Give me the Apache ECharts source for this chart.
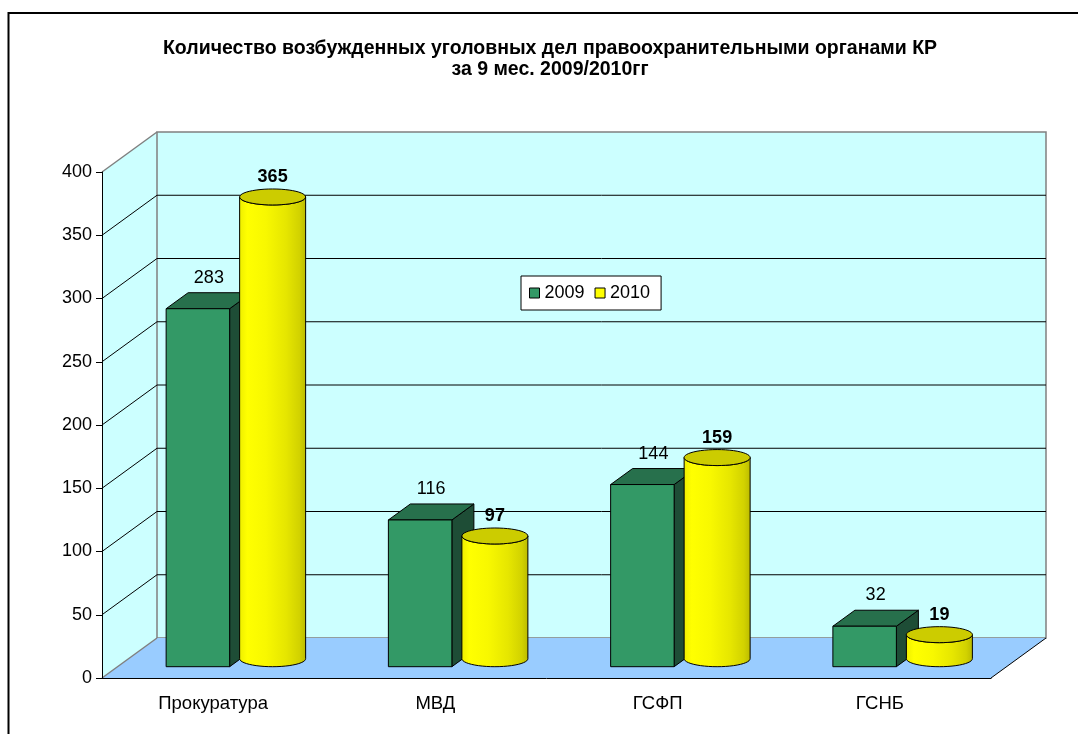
<!DOCTYPE html>
<html>
<head>
<meta charset="utf-8">
<script src="https://cdn.jsdelivr.net/npm/echarts@6/dist/echarts.min.js"></script>
<style>
html, body { margin: 0; padding: 0; background: #fff; }
#chart { width: 1078px; height: 734px; }
</style>
</head>
<body>
<div id="chart"></div>
<script>
// данные
const categories = ['Прокуратура', 'МВД', 'ГСФП', 'ГСНБ'];
const values2009 = [283, 116, 144, 32];
const values2010 = [365, 97, 159, 19];
const yTicks = [0, 50, 100, 150, 200, 250, 300, 350, 400];

const FONT = 'Arial, "Liberation Sans", sans-serif';
// глубина стенок и столбиков (пиксели)
const WALL_DX = 55, WALL_DY = -40;
const BOX_DX = 22, BOX_DY = -16;

function renderWalls(params, api) {
    const bw = api.size([1, 0])[0];
    const fl = api.coord([0, 0])[0] - bw / 2;
    const fr = api.coord([categories.length - 1, 0])[0] + bw / 2;
    const y0 = api.coord([0, 0])[1];
    const yTop = api.coord([0, yTicks[yTicks.length - 1]])[1];
    const dx = WALL_DX, dy = WALL_DY;
    const children = [
        {type: 'polygon', shape: {points: [[fl, yTop], [fl + dx, yTop + dy], [fl + dx, y0 + dy], [fl, y0]]},
            style: {fill: '#CCFFFF'}},
        {type: 'polygon', shape: {points: [[fl + dx, yTop + dy], [fr + dx, yTop + dy], [fr + dx, y0 + dy], [fl + dx, y0 + dy]]},
            style: {fill: '#CCFFFF', stroke: '#808080', lineWidth: 1.5}},
        {type: 'polygon', shape: {points: [[fl, y0], [fl + dx, y0 + dy], [fr + dx, y0 + dy], [fr, y0]]},
            style: {fill: '#99CCFF'}},
        {type: 'line', shape: {x1: fl, y1: yTop, x2: fl + dx, y2: yTop + dy}, style: {stroke: '#808080', lineWidth: 1.5}},
        {type: 'line', shape: {x1: fl, y1: y0, x2: fl + dx, y2: y0 + dy}, style: {stroke: '#808080', lineWidth: 1.5}},
        {type: 'line', shape: {x1: fr, y1: y0, x2: fr + dx, y2: y0 + dy}, style: {stroke: '#000', lineWidth: 1}}
    ];
    yTicks.slice(1, -1).forEach(t => {
        const y = api.coord([0, t])[1];
        children.push({type: 'polyline', shape: {points: [[fl, y], [fl + dx, y + dy], [fr + dx, y + dy]]},
            style: {stroke: '#000', lineWidth: 1, fill: null}});
    });
    return {type: 'group', children: children};
}

function renderBox(params, api) {
    const i = api.value(0), v = api.value(1);
    const base = api.coord([i, 0]);
    const top = api.coord([i, v]);
    const cx = base[0];
    const x0 = cx - 47, x1 = cx + 16.5;
    const yb = base[1] - 11.3, yt = top[1] - 11.3;
    const dx = BOX_DX, dy = BOX_DY;
    const line = {stroke: '#000', lineWidth: 1};
    return {
        type: 'group',
        children: [
            {type: 'polygon', shape: {points: [[x1, yt], [x1 + dx, yt + dy], [x1 + dx, yb + dy], [x1, yb]]},
                style: Object.assign({fill: '#1E4D36'}, line)},
            {type: 'polygon', shape: {points: [[x0, yt], [x0 + dx, yt + dy], [x1 + dx, yt + dy], [x1, yt]]},
                style: Object.assign({fill: '#27704C'}, line)},
            {type: 'rect', shape: {x: x0, y: yt, width: x1 - x0, height: yb - yt},
                style: Object.assign({fill: '#339966'}, line)},
            {type: 'text', x: (x0 + x1) / 2 + dx / 2, y: yt + dy - 15,
                style: {text: String(v), font: '18px ' + FONT, fill: '#000',
                    align: 'center', verticalAlign: 'middle', textAlign: 'center', textVerticalAlign: 'middle'}}
        ]
    };
}

function ellipsePts(cx, cy, rx, ry, a0, a1, n) {
    const pts = [];
    for (let k = 0; k <= n; k++) {
        const t = a0 + (a1 - a0) * k / n;
        pts.push([cx + rx * Math.cos(t), cy + ry * Math.sin(t)]);
    }
    return pts;
}

function renderCylinder(params, api) {
    const i = api.value(0), v = api.value(1);
    const base = api.coord([i, 0]);
    const top = api.coord([i, v]);
    const ccx = base[0] + 59.5;
    const rx = 33, ry = 8;
    const yb = base[1] - 19.3, yt = top[1] - 19.3;
    let body = [[ccx - rx, yt], [ccx - rx, yb]];
    body = body.concat(ellipsePts(ccx, yb, rx, ry, Math.PI, 0, 24));
    body.push([ccx + rx, yt]);
    body = body.concat(ellipsePts(ccx, yt, rx, ry, 0, Math.PI, 24));
    const grad = new echarts.graphic.LinearGradient(0, 0, 1, 0, [
        {offset: 0, color: '#EDED00'},
        {offset: 0.12, color: '#FFFF00'},
        {offset: 0.4, color: '#F8F800'},
        {offset: 0.7, color: '#E6E600'},
        {offset: 0.9, color: '#D2D200'},
        {offset: 1, color: '#BABA00'}
    ]);
    return {
        type: 'group',
        children: [
            {type: 'polygon', shape: {points: body}, style: {fill: grad, stroke: '#000', lineWidth: 1}},
            {type: 'polygon', shape: {points: ellipsePts(ccx, yt, rx, ry, 0, Math.PI * 2, 48)},
                style: {fill: '#CCCC00', stroke: '#000', lineWidth: 1}},
            {type: 'text', x: ccx, y: yt - 20,
                style: {text: String(v), font: 'bold 18px ' + FONT, fill: '#000',
                    align: 'center', verticalAlign: 'middle', textAlign: 'center', textVerticalAlign: 'middle'}}
        ]
    };
}

const chart = echarts.init(document.getElementById('chart'));
chart.setOption({
    animation: false,
    backgroundColor: '#fff',
    title: {
        text: 'Количество возбужденных уголовных дел правоохранительными органами КР\nза 9 мес. 2009/2010гг',
        left: 550,
        top: 38,
        padding: 0,
        textAlign: 'center',
        textStyle: {fontFamily: FONT, fontSize: 19.5, fontWeight: 'bold', color: '#000', lineHeight: 21}
    },
    legend: {
        data: ['2009', '2010'],
        left: 521,
        top: 276,
        orient: 'horizontal',
        icon: 'rect',
        itemWidth: 10,
        itemHeight: 10,
        itemGap: 10,
        padding: [8, 11, 8, 8],
        backgroundColor: '#fff',
        borderColor: '#000',
        borderWidth: 1,
        itemStyle: {borderColor: '#000', borderWidth: 1},
        textStyle: {fontFamily: FONT, fontSize: 18, color: '#000'},
        z: 10
    },
    graphic: [{
        type: 'rect', silent: true,
        shape: {x: 8.5, y: 13, width: 1080, height: 730},
        style: {fill: null, stroke: '#000', lineWidth: 2}
    }],
    grid: {left: 102, top: 172, width: 889, height: 506, containLabel: false},
    xAxis: {
        type: 'category',
        data: categories,
        boundaryGap: true,
        z: 5,
        axisLine: {lineStyle: {color: '#000', width: 1}},
        axisTick: {length: 6, lineStyle: {color: '#000'}},
        axisLabel: {fontFamily: FONT, fontSize: 18.5, color: '#000', margin: 16},
        splitLine: {show: false}
    },
    yAxis: {
        type: 'value',
        min: 0,
        max: 400,
        interval: 50,
        z: 5,
        axisLine: {show: true, lineStyle: {color: '#000', width: 1}},
        axisTick: {show: true, length: 6, lineStyle: {color: '#000'}},
        axisLabel: {fontFamily: FONT, fontSize: 18, color: '#000', margin: 10},
        splitLine: {show: false}
    },
    series: [
        {
            type: 'custom', name: 'walls', silent: true, z: 1,
            renderItem: renderWalls,
            data: [[0, 0]],
            encode: {x: 0, y: 1}
        },
        {
            type: 'custom', name: '2009', z: 2,
            itemStyle: {color: '#339966'},
            renderItem: renderBox,
            data: values2009.map((v, i) => [i, v]),
            encode: {x: 0, y: 1}
        },
        {
            type: 'custom', name: '2010', z: 3,
            itemStyle: {color: '#FFFF00'},
            renderItem: renderCylinder,
            data: values2010.map((v, i) => [i, v]),
            encode: {x: 0, y: 1}
        }
    ]
});
</script>
</body>
</html>
